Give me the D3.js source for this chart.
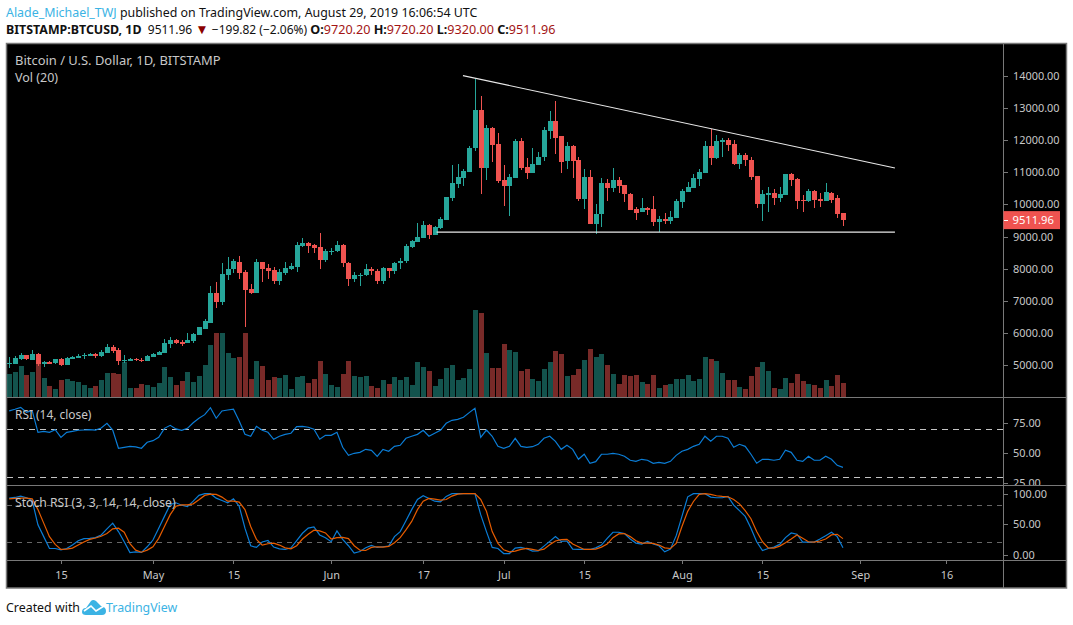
<!DOCTYPE html>
<html><head><meta charset="utf-8">
<script src="https://cdn.jsdelivr.net/npm/d3@7"></script>
<style>html,body{margin:0;padding:0;background:#fff;overflow:hidden}svg{display:block}text{font-family:"Noto Sans",sans-serif}</style>
</head><body>
<script>
const startDate = "2019-04-06";
const opens = [5044,5033,5189,5313,5158,5345,5033,5095,5064,5179,5002,5189,5220,5282,5282,5345,5282,5376,5563,5469,5127,5127,5189,5158,5127,5251,5313,5376,5656,5781,5718,5687,5750,5936,6123,6310,7244,6964,7805,7992,8210,7898,7369,7244,8210,8023,7960,7618,7867,7992,8054,8709,8803,8740,8678,8270,8550,8560,8740,8180,7670,7800,7800,8000,7930,7630,8010,7920,8170,8240,8678,8834,8958,9363,9052,9270,9519,10204,10640,10827,11014,11761,12944,11138,12384,11886,10765,10578,10827,11979,11169,10983,11232,11481,12290,12602,12135,11356,11823,11387,10172,10857,9393,9704,10670,10514,10763,10607,10327,9860,9767,9891,9860,9455,9549,9486,9580,10078,10389,10514,10794,10981,11822,11448,11947,12009,11884,11261,11542,11386,10888,10016,10296,10358,10203,10296,10950,10794,10140,10109,10421,10171,10109,10358,10203,9720.2];
const closes = [5064,5220,5313,5189,5345,5033,5095,5033,5189,5002,5220,5251,5282,5303,5345,5282,5407,5563,5438,5127,5147,5189,5168,5137,5282,5345,5407,5687,5781,5687,5656,5781,5967,6185,6372,7244,6964,7836,7992,8241,7867,7338,7234,8210,7992,7929,7618,7898,8023,8085,8739,8803,8709,8647,8270,8550,8560,8740,8180,7670,7800,7810,8000,7930,7630,8010,7920,8170,8240,8709,8865,8990,9363,9052,9301,9550,10235,10671,10858,11045,11761,12944,11138,12384,11854,10733,10578,10858,11979,11138,10983,11263,11481,12322,12602,12072,11325,11823,11356,10173,10857,9393,9704,10670,10514,10763,10576,10327,9829,9736,9891,9829,9455,9549,9486,9611,10109,10421,10545,10825,11012,11822,11448,11978,12009,11853,11261,11542,11386,10857,10016,10327,10358,10203,10327,10950,10763,10109,10120,10421,10140,10120,10389,10140,9704,9511.96];
const highs = [5251,5282,5376,5313,5469,5376,5127,5127,5189,5220,5251,5282,5345,5376,5376,5376,5469,5656,5625,5531,5313,5220,5220,5220,5313,5376,5438,5812,5874,5812,5781,5999,5999,6185,6434,7462,7587,8178,8365,8303,8396,7960,7524,8303,8210,8147,8054,7992,8210,8178,8832,8958,8834,8772,9114,8616,8640,8865,8770,8200,7900,7870,8140,8050,7980,8040,8020,8200,8330,8772,8896,9426,9488,9394,9332,9612,10235,11232,11263,11107,11823,13910,13380,12477,12415,12228,11232,10951,12041,12072,11450,11761,11637,12415,12913,13225,12135,11948,11854,11481,11106,11075,10016,10825,10794,11137,10857,10607,10358,9922,10203,9922,10265,9642,9736,9798,10171,10483,10701,10950,11106,11978,12351,12164,12071,12071,12009,11604,11604,11479,10888,10452,10545,10483,10545,10950,10981,10825,10296,10483,10452,10358,10670,10389,10296,9720.2];
const lows = [4919,5033,5158,5158,5158,4971,4940,5033,5033,4971,5002,5189,5220,5189,5282,5220,5251,5376,5376,5002,5064,5127,5127,5095,5127,5251,5313,5376,5531,5656,5594,5687,5687,5936,6123,6310,6777,6870,7649,7867,7680,6185,7213,7244,7587,7680,7524,7493,7805,7960,7898,8678,8500,8480,7990,8210,8440,8520,8050,7460,7570,7450,7780,7800,7520,7510,7700,7840,8000,8180,8650,8834,8958,8926,9052,9239,9519,10111,10515,10578,11014,11668,10329,10765,11325,10671,9955,9644,10827,11076,10796,10983,11232,11356,12041,11574,10983,11107,10827,10111,9860,9393,9082,9300,10109,10389,10358,10078,9829,9518,9767,9673,9331,9144,9393,9393,9580,9891,10389,10514,10576,10981,11230,11417,11479,11666,11230,11106,11199,10763,9891,9486,9767,9985,10078,10296,10576,9860,9767,10078,9891,9922,10109,10047,9580,9320];
const volumes = [23,25,31,22,25,33,19,11,8,17,18,16,15,12,9,11,17,24,24,23,35,9,9,13,12,10,14,30,20,12,16,25,15,21,32,52,64,64,44,39,40,64,18,36,31,17,20,19,22,8,20,21,14,18,36,23,12,10,23,36,21,20,21,11,9,17,13,20,17,20,12,35,30,26,11,18,29,32,17,19,28,87,84,44,29,29,53,47,45,26,28,18,16,28,35,46,43,21,22,28,37,48,40,43,32,23,13,22,21,22,15,13,22,9,12,13,18,18,22,16,18,40,38,36,24,17,17,10,8,21,30,35,26,9,8,19,14,23,16,13,12,9,17,11,22,14];
const rsiValues = [85.3,86.7,88.3,84.2,85.5,67.5,68.3,67.5,69.7,63.3,67.5,68.3,69.2,69.4,69.7,69.4,71.1,75,69.4,54.2,55,55.8,55.3,54.2,59.2,60.5,63.3,70.8,73.3,70.3,69.2,70.8,75.5,79.2,82.2,88,79.2,85.3,86.1,86.7,76.9,65.8,64.2,72.5,69.2,67.5,61.7,64.2,65.8,66.7,72.2,72.5,71.7,70,61.7,65,65,67.5,55,48.3,50,50.8,53.3,52.5,47.5,53.3,51.7,55.8,56.7,62.5,64.2,65.8,69.2,64.2,66.7,69.2,75,77.5,78.3,80,83.9,87.5,63.3,69.4,64.2,55.8,54.2,55.8,62.5,55.8,55,55.5,57.5,62.5,64.2,60,53.3,56.7,53.3,45,49.2,41.7,43,49.2,49.2,50,49.2,47.5,44.2,43.3,45,44.2,41.7,42.5,41.7,43.3,48.3,51.7,53.3,55.8,57.5,64.2,60,64.2,64.2,62.5,55,57.5,55.8,49.2,41.7,45,45,44.2,45,52.5,50.8,44.2,43.3,47.5,44.2,44.2,47.5,45,40,38.3];
const stochK = [92.7,93.8,96.1,93.3,88.8,48.8,29.4,9.9,9.9,7.7,9.9,15.5,22.7,26.1,26.6,27.7,32.2,42.2,51.6,37.7,21,3.3,4.4,3.3,12.7,23.8,43.3,62.7,82.2,85,81.1,78.8,87.7,97.2,100,100,92.7,88.8,85,91.6,79.4,43.3,14.4,11.6,20.5,23.3,12.2,9.4,8.3,11,22.7,34.9,43.3,45.5,32.2,27.7,21,38.8,24.9,14.4,2.2,5,11,14.9,11.6,12.7,13.8,29.4,37.7,55.5,73.8,90.5,96.6,92.2,87.7,86.6,95.5,100,100,100,100,100,65.5,37.7,11.6,9.9,1.6,1.6,10.5,11.6,9.4,5.5,6.1,13.8,21.6,29.4,21.6,22.2,8.8,8.3,8.3,8.3,11,15.5,26.6,36.6,36.6,34.4,25.5,18.8,17.2,21.6,17.2,14.4,4.4,8.8,31,62.7,94.9,100,100,100,94.4,93.3,93.3,95.5,81.1,72.2,62.7,43.3,21,6.6,9.9,12.2,16.6,27.7,35.5,33.3,20.5,20.5,20.5,25.5,31,36.6,29.4,11];
const stochD = [91.6,92.2,92.7,92.7,91.6,73.8,51.6,29.4,16.6,8.3,8.8,10.5,15.5,20.5,24.9,27.2,30,34.4,42.2,43.3,36.6,17.7,7.2,3.8,7.2,12.7,26.6,46.1,65.5,79.4,81.6,81.6,83.3,90,97.2,99.4,98.8,94.4,87.7,87.7,86.1,73.8,46.1,24.9,15.5,17.7,18.8,15.5,11,9.4,14.4,25.5,33.3,39.9,38.8,35.5,25.5,27.7,28.3,26.1,14.4,7.2,6.6,11.6,12.7,12.2,13.3,19.4,27.7,40.5,54.4,73.8,87.7,92.2,91,89.4,90.5,96.1,99.4,100,100,100,90.5,71,37.7,18.3,7.7,4.4,5.5,8.3,9.9,8.3,6.6,8.8,16,22.2,24.4,24.9,17.2,12.7,8.3,8.3,8.8,12.2,17.2,27.7,33.8,34.4,29.4,22.7,18.8,18.8,18.3,15.5,11,9.9,18.3,46.1,71,87.2,98.8,100,98.8,96.6,95.5,94.9,90.5,83.3,72.2,58.8,37.7,21,11,10.5,13.8,19.4,25.5,32.2,26.6,21,20.5,22.2,25.5,32.2,33.3,26.1];
const priceTicks = [5000,6000,7000,8000,9000,10000,11000,12000,13000,14000];
const rsiTicks = [25,50,75];
const rsiBands = [70,30];
const stochTicks = [0,50,100];
const stochBands = [80,20];
const timeTicks = ["2019-04-15","2019-05-01","2019-05-15","2019-06-01","2019-06-17","2019-07-01","2019-07-15","2019-08-01","2019-08-15","2019-09-01","2019-09-16"];
const timeLabels = ["15","May","15","Jun","17","Jul","15","Aug","15","Sep","16"];
const resistanceLine = [["2019-06-23T22:00Z",14012],["2019-09-07T01:00Z",11137]];
const supportLine = [["2019-06-19T08:00Z",9137],["2019-09-07T01:00Z",9137]];
const lastPrice = 9511.96;

const GREEN="#26a69a", RED="#ef5350", FRAME="#787878", TXT="#c8c8c8", BLUE="#3bb3e4";
const W=1073,H=625;
const chart={l:7,r:1003,t:44,b:588,right:1066};
const panes={main:[44,397],rsi:[398,485],stoch:[486,560]};

const parse=s=>new Date(s.length===10?s+"T00:00Z":s);
const dates=opens.map((_,i)=>d3.utcDay.offset(parse(startDate),i));
const x=d3.scaleUtc().domain([parse(startDate),parse("2019-09-16")]).range([9.2,946.45]);
const y=d3.scaleLinear().domain([5000,14000]).range([365,76]);
const yVol=d3.scaleLinear().domain([0,87]).range([397,310]);
const yRsi=d3.scaleLinear().domain([30,70]).range([477.3,429.3]);
const yStoch=d3.scaleLinear().domain([0,100]).range([554.5,493.7]);

const svg=d3.select("body").append("svg").attr("width",W).attr("height",H).attr("viewBox",`0 0 ${W} ${H}`);
svg.append("rect").attr("width",W).attr("height",H).attr("fill","#fff");

// header
const h1=svg.append("text").attr("x",6).attr("y",16.5).attr("font-size",12.4);
h1.append("tspan").attr("fill",BLUE).text("Alade_Michael_TWJ");
h1.append("tspan").attr("fill","#111").text(" published on TradingView.com, August 29, 2019 16:06:54 UTC");
const h2=svg.append("text").attr("x",6).attr("y",34).attr("font-size",12).attr("fill","#111").style("white-space","pre");
h2.append("tspan").attr("font-weight",700).attr("font-size",12.4).text("BITSTAMP:BTCUSD, 1D");
h2.append("tspan").text("  9511.96 ");
h2.append("tspan").attr("fill","#8b0000").attr("font-size",13.5).text("▼");
h2.append("tspan").text(" −199.82 (−2.06%) ");
[["O:","9720.20"],["H:","9720.20"],["L:","9320.00"],["C:","9511.96"]].forEach(([k,v],i)=>{
  h2.append("tspan").attr("font-weight",700).attr("font-size",12.6).text((i?" ":"")+k);
  h2.append("tspan").attr("fill","#a31515").attr("font-size",12.6).text(v);
});

// frame
svg.append("rect").attr("x",6.5).attr("y",43.5).attr("width",chart.right-6).attr("height",chart.b-43.5)
  .attr("fill","#000").attr("stroke",FRAME).attr("stroke-width",1.5);

const defs=svg.append("defs");
[["clipMain",panes.main,chart.l,chart.r],["clipRsi",panes.rsi,chart.l,chart.r],["clipStoch",panes.stoch,chart.l,chart.r],["clipAxisRsi",panes.rsi,chart.r,chart.right]].forEach(([id,p,a,b])=>{
  defs.append("clipPath").attr("id",id).append("rect").attr("x",a).attr("y",p[0]).attr("width",b-a).attr("height",p[1]-p[0]);
});

const main=svg.append("g").attr("clip-path","url(#clipMain)");
const data=dates.map((d,i)=>({d,o:opens[i],c:closes[i],h:highs[i],l:lows[i],v:volumes[i],up:closes[i]>=opens[i]}));
const px=d=>Math.round(x(d));

main.append("g").selectAll("rect").data(data).join("rect")
  .attr("x",d=>px(d.d)-2.5).attr("width",5)
  .attr("y",d=>yVol(d.v)).attr("height",d=>yVol(0)-yVol(d.v))
  .attr("fill",d=>d.up?GREEN:RED).attr("opacity",.5).attr("shape-rendering","crispEdges");

main.append("g").selectAll("line").data(data).join("line")
  .attr("x1",d=>px(d.d)).attr("x2",d=>px(d.d))
  .attr("y1",d=>y(d.h)).attr("y2",d=>y(d.l))
  .attr("stroke",d=>d.up?GREEN:RED).attr("stroke-width",1).attr("shape-rendering","crispEdges");

main.append("g").selectAll("rect").data(data).join("rect")
  .attr("x",d=>px(d.d)-2.5).attr("width",5)
  .attr("y",d=>y(Math.max(d.o,d.c)))
  .attr("height",d=>Math.max(1,Math.abs(y(d.o)-y(d.c))))
  .attr("fill",d=>d.up?GREEN:RED).attr("shape-rendering","crispEdges");

const trend=d3.line().x(d=>x(parse(d[0]))).y(d=>y(d[1]));
[resistanceLine,supportLine].forEach(l=>main.append("path").attr("d",trend(l)).attr("fill","none").attr("stroke","#e8e8e8").attr("stroke-width",1.1));

// RSI pane
const gRsi=svg.append("g").attr("clip-path","url(#clipRsi)");
rsiBands.forEach(b=>gRsi.append("line").attr("x1",chart.l).attr("x2",chart.r).attr("y1",yRsi(b)).attr("y2",yRsi(b))
  .attr("stroke","#c4c4c4").attr("stroke-dasharray","6 5").attr("shape-rendering","crispEdges"));
gRsi.append("path").attr("d",d3.line().x((_,i)=>x(dates[i])).y(v=>yRsi(v))(rsiValues))
  .attr("fill","none").attr("stroke","#0b7dd6").attr("stroke-width",1.2);

// Stoch pane
const gSt=svg.append("g").attr("clip-path","url(#clipStoch)");
stochBands.forEach(b=>gSt.append("line").attr("x1",chart.l).attr("x2",chart.r).attr("y1",yStoch(b)).attr("y2",yStoch(b))
  .attr("stroke","#666").attr("stroke-dasharray","5 5").attr("shape-rendering","crispEdges"));
const lineSt=d3.line().x((_,i)=>x(dates[i])).y(v=>yStoch(v));
gSt.append("path").attr("d",lineSt(stochK)).attr("fill","none").attr("stroke","#0b7dd6").attr("stroke-width",1.2);
gSt.append("path").attr("d",lineSt(stochD)).attr("fill","none").attr("stroke","#e65c00").attr("stroke-width",1.2);

// pane separators
[397.5,485.5,560.5].forEach(v=>svg.append("line").attr("x1",6).attr("x2",chart.right).attr("y1",v).attr("y2",v).attr("stroke",FRAME));
svg.append("line").attr("x1",chart.r+.5).attr("x2",chart.r+.5).attr("y1",43).attr("y2",chart.b).attr("stroke",FRAME);

// axes
function styleAxis(g){
  g.select(".domain").remove();
  g.selectAll("line").attr("stroke",FRAME).attr("shape-rendering","crispEdges");
  g.selectAll("text").attr("fill",TXT).attr("font-size",10.9);
}
const fmt=d3.format(".2f");
svg.append("g").attr("transform",`translate(${chart.r+.5},0)`).call(d3.axisRight(y).tickValues(priceTicks).tickFormat(fmt).tickSize(4).tickPadding(5.5)).call(styleAxis);
svg.append("g").attr("clip-path","url(#clipAxisRsi)").append("g").attr("transform",`translate(${chart.r+.5},0)`).call(d3.axisRight(yRsi).tickValues(rsiTicks).tickFormat(fmt).tickSize(4).tickPadding(5.5)).call(styleAxis);
svg.append("g").attr("transform",`translate(${chart.r+.5},0)`).call(d3.axisRight(yStoch).tickValues(stochTicks).tickFormat(fmt).tickSize(4).tickPadding(5.5)).call(styleAxis);
const tickDates=timeTicks.map(parse);
svg.append("g").attr("transform","translate(0,560.5)").call(d3.axisBottom(x).tickValues(tickDates).tickFormat((d,i)=>timeLabels[i]).tickSize(3).tickPadding(7.5)).call(styleAxis);

// last price tag
svg.append("rect").attr("x",chart.r+.5).attr("y",y(lastPrice)-9).attr("width",56.5).attr("height",18).attr("fill",RED);
svg.append("line").attr("x1",chart.r+.5).attr("x2",chart.r+4.5).attr("y1",y(lastPrice)).attr("y2",y(lastPrice)).attr("stroke","#fff").attr("shape-rendering","crispEdges");
svg.append("text").attr("x",chart.r+9.5).attr("y",y(lastPrice)+4).attr("fill","#fff").attr("font-size",11.2).text(fmt(lastPrice));

// legends
const legend=(t,yy,fs)=>svg.append("text").attr("x",15).attr("y",yy).attr("fill",TXT).attr("font-size",fs).text(t);
legend("Bitcoin / U.S. Dollar, 1D, BITSTAMP",65,12.95);
legend("Vol (20)",82,12.5);
legend("RSI (14, close)",419,11.9);
legend("Stoch RSI (3, 3, 14, 14, close)",507,12.2);

// footer
svg.append("text").attr("x",6).attr("y",612).attr("font-size",12.4).attr("fill","#111").text("Created with");
svg.append("path").attr("d","M82 612 Q82 608 86 608 L91 601 Q93 599 96 601 L101 606 Q106 607 106 611 Q106 615 102 615 L86 615 Q82 615 82 612Z").attr("fill",BLUE);
svg.append("path").attr("d","M84 611 L91 606 L96 611 L104 606").attr("fill","none").attr("stroke","#fff").attr("stroke-width",1.6);
svg.append("text").attr("x",106).attr("y",612).attr("font-size",12.4).attr("fill",BLUE).text("TradingView");
</script>
</body></html>
